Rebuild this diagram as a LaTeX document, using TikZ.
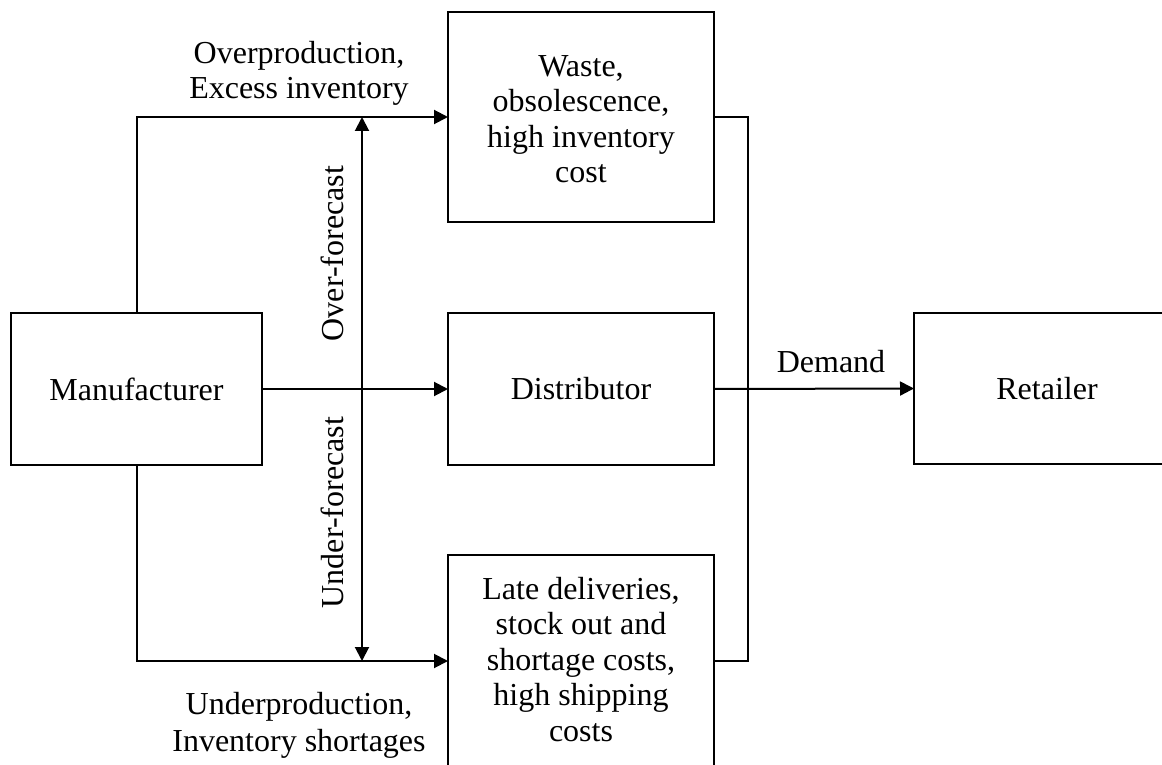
\documentclass[tikz,border=0pt]{standalone}
\usepackage{fontspec}
\setmainfont{Liberation Serif}
\usetikzlibrary{arrows.meta}
\newcommand\diagfont{\fontsize{32}{35.5}\selectfont}
\begin{document}
\begin{tikzpicture}[x=1pt,y=-1pt,
  box/.style={draw,line width=2.4pt,inner sep=0pt,outer sep=0pt,font=\diagfont,align=center},
  txt/.style={inner sep=0pt,font=\diagfont,align=center},
  conn/.style={line width=2pt},
  arr/.style={conn,-{Triangle[length=14pt,width=14pt]}},
  dbl/.style={conn,{Triangle[length=14pt,width=14pt]}-{Triangle[length=14pt,width=14pt]}}]
\useasboundingbox (0,0) rectangle (1162,765);
\clip (0,0) rectangle (1162,765);

% boxes
\node[box,minimum width=251pt,minimum height=152pt] (man) at (136.5,389) {Manufacturer};
\node[box,minimum width=266pt,minimum height=210pt] (waste) at (581,117) {};
\node[box,minimum width=266pt,minimum height=152pt] (dist) at (581,389) {Distributor};
\node[box,minimum width=266pt,minimum height=245pt] (late) at (581,677.5) {};
\node[box,minimum width=266pt,minimum height=151pt] (ret) at (1047,388.5) {Retailer};

% texts inside the outcome boxes
\node[txt,anchor=north] (wastetext) at (581,55) {Waste,\\obsolescence,\\high inventory\\cost};
\node[txt,anchor=north] (latetext) at (581,577) {Late deliveries,\\stock out and\\shortage costs,\\high shipping\\costs};

% junction points
\coordinate (lo) at (136.5,661);
\coordinate (fhi) at (362,117);
\coordinate (flo) at (362,661);
\coordinate (rt) at (748,117);
\coordinate (rb) at (748,661);

% flows from the manufacturer
\draw[arr] (man.north) -- (man.north |- waste.west) -- (waste.west);
\draw[arr] (man.east) -- (dist.west);
\draw[arr] (man.south) -- (lo) -- (late.west |- lo);
\draw[dbl] (fhi) -- (flo);

% outcomes joined towards the retailer
\draw[conn] (waste.east) -- (rt) -- (rb) -- (late.east |- rb);
\draw[arr] (dist.east) -- (ret.west);

% labels
\node[txt,anchor=north] (over) at (299,41) {Overproduction,\\Excess inventory};
\node[txt,anchor=north,font=\fontsize{32}{37.5}\selectfont] (under) at (299,692) {Underproduction,\\Inventory shortages};
\node[txt,anchor=base,rotate=90] (overf) at (343,253.5) {Over-forecast};
\node[txt,anchor=base,rotate=90] (underf) at (343,512.5) {Under-forecast};
\node[txt,anchor=base] (demand) at (831,372) {Demand};
\end{tikzpicture}
\end{document}
